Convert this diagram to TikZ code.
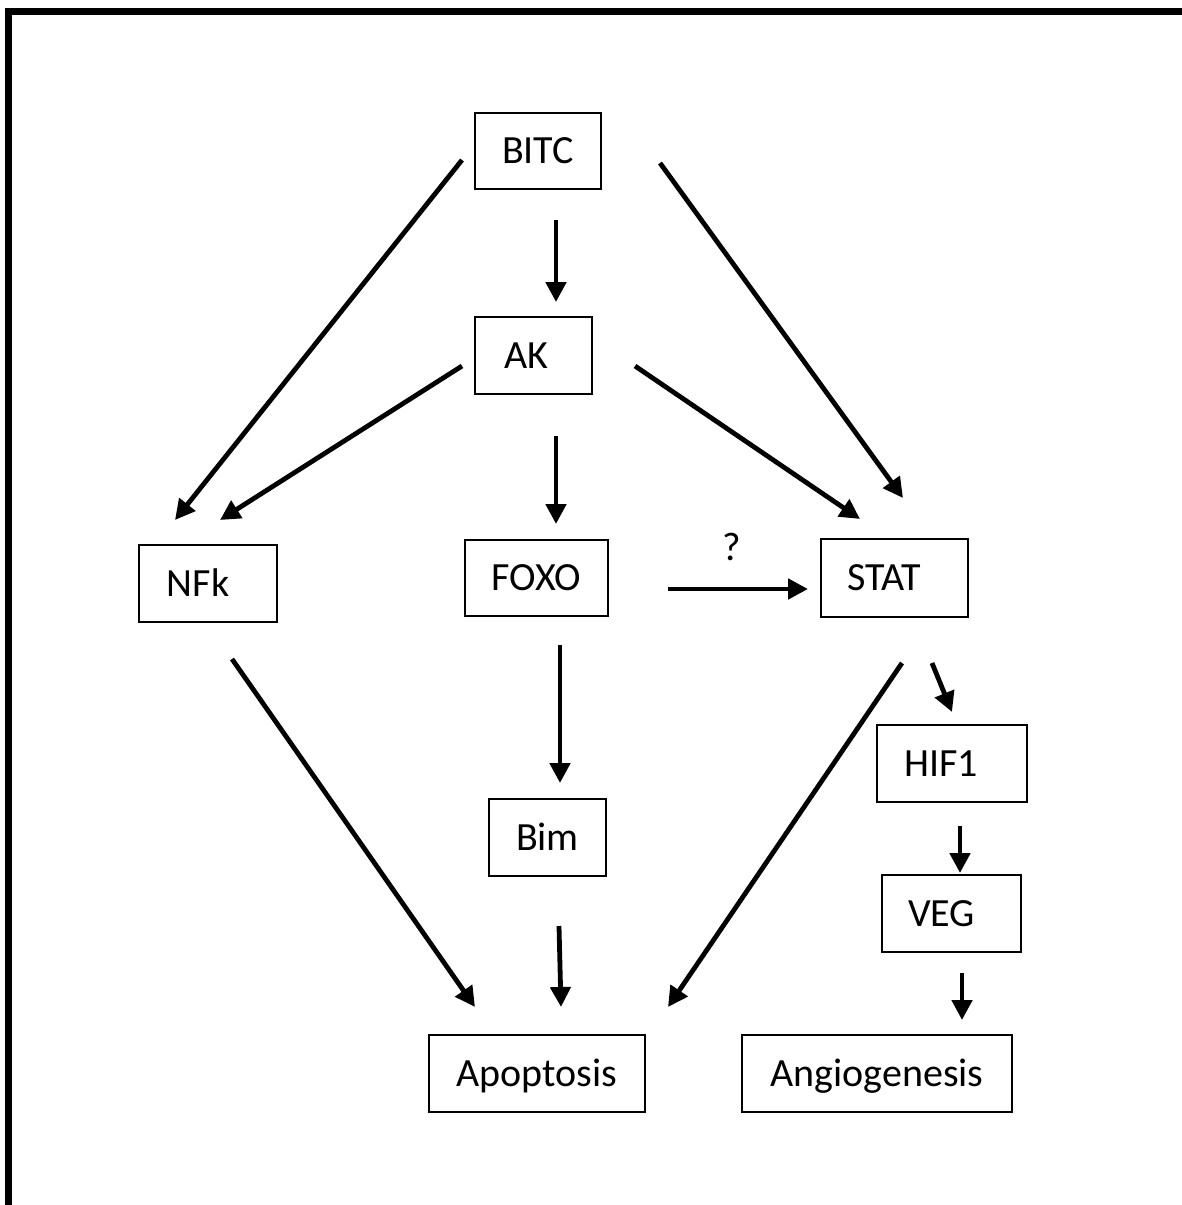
\documentclass[tikz,border=0pt]{standalone}
\usepackage{fontspec}
\setmainfont{Carlito}
\usetikzlibrary{arrows.meta}
\begin{document}
\begin{tikzpicture}[x=1pt,y=-1pt,
  box/.style={draw, line width=2.2pt, inner sep=0pt, text height=25pt, text depth=0pt, font=\fontsize{40}{44}\selectfont},
  arr/.style={line width=4.8pt, -{Triangle[length=20pt,width=20pt]}},
  lbl/.style={font=\fontsize{40}{44}\selectfont, inner sep=0pt}]
\useasboundingbox (0,0) rectangle (1182,1205);
\clip (0,0) rectangle (1182,1205);
\fill[white] (0,0) rectangle (1182,1205);
\draw[line width=7pt] (8.5,1300) -- (8.5,11.5) -- (1300,11.5);

% boxes
\node[box, minimum width=126pt, minimum height=76pt] (bitc) at (538,151) {BITC};
\node[box, minimum width=117pt, minimum height=77pt] (ak) at (533.5,355.5) {AK\kern14pt};
\node[box, minimum width=138pt, minimum height=77pt] (nfk) at (208,583.5) {NFk\kern20pt};
\node[box, minimum width=143pt, minimum height=76pt] (foxo) at (536.5,578) {FOXO};
\node[box, minimum width=147pt, minimum height=78pt] (stat) at (894.5,578) {STAT\kern20pt};
\node[box, minimum width=150pt, minimum height=77pt] (hif) at (952,763.5) {HIF1\kern22pt};
\node[box, minimum width=117pt, minimum height=77pt] (bim) at (547.5,837.5) {Bim};
\node[box, minimum width=139pt, minimum height=77pt] (veg) at (951.5,913.5) {VEG\kern20pt};
\node[box, minimum width=216pt, minimum height=77pt] (apo) at (537,1073.5) {Apoptosis};
\node[box, minimum width=270pt, minimum height=77pt] (ang) at (877,1073.5) {Angiogenesis};
\node[lbl] (q) at (732,547) {?};

% arrow end points
\coordinate (a1s) at (462,160);  \coordinate (a1e) at (175,520);
\coordinate (a2s) at (462,366);  \coordinate (a2e) at (220,520);
\coordinate (a3s) at (556,220);  \coordinate (a3e) at (556,302);
\coordinate (a4s) at (556,436);  \coordinate (a4e) at (556,524);
\coordinate (a5s) at (635,366);  \coordinate (a5e) at (860,519);
\coordinate (a6s) at (660,163);  \coordinate (a6e) at (903,498);
\coordinate (a7s) at (668,589);  \coordinate (a7e) at (808,589);
\coordinate (a8s) at (560,645);  \coordinate (a8e) at (560,783);
\coordinate (a9s) at (232,659);  \coordinate (a9e) at (475,1007);
\coordinate (a10s) at (559,926); \coordinate (a10e) at (561,1007);
\coordinate (a11s) at (902,663); \coordinate (a11e) at (668,1007);
\coordinate (a12s) at (932,663); \coordinate (a12e) at (952,712);
\coordinate (a13s) at (960,826); \coordinate (a13e) at (960,873);
\coordinate (a14s) at (962,973); \coordinate (a14e) at (962,1020);

\draw[arr] (a1s) -- (a1e);
\draw[arr] (a2s) -- (a2e);
\draw[arr] (a3s) -- (a3e);
\draw[arr] (a4s) -- (a4e);
\draw[arr] (a5s) -- (a5e);
\draw[arr] (a6s) -- (a6e);
\draw[arr] (a7s) -- (a7e);
\draw[arr] (a8s) -- (a8e);
\draw[arr] (a9s) -- (a9e);
\draw[arr] (a10s) -- (a10e);
\draw[arr] (a11s) -- (a11e);
\draw[arr] (a12s) -- (a12e);
\draw[arr] (a13s) -- (a13e);
\draw[arr] (a14s) -- (a14e);
\end{tikzpicture}
\end{document}
